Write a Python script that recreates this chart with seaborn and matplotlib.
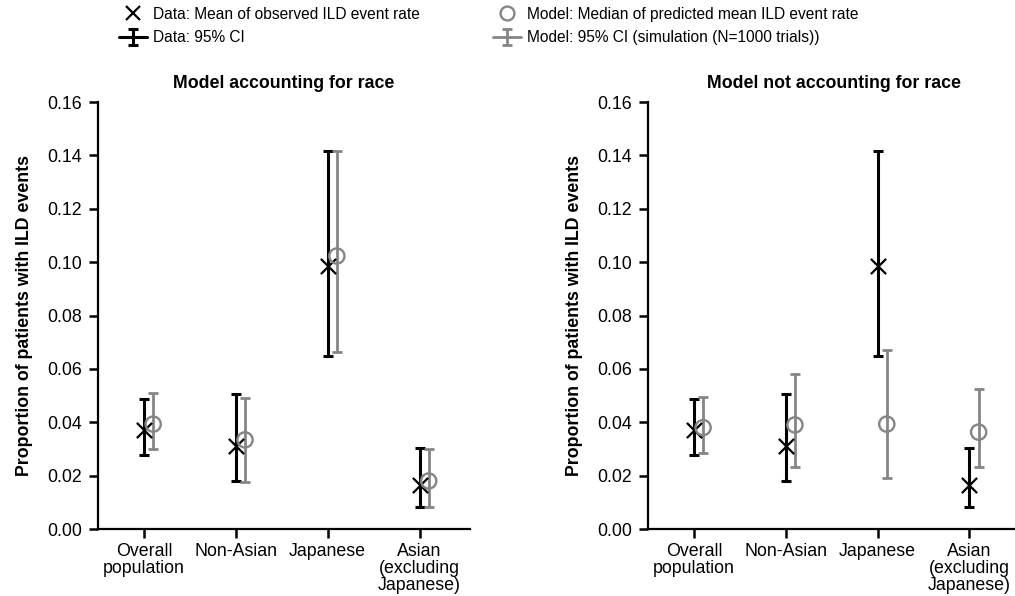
import numpy as np
import pandas as pd
import seaborn as sns
import matplotlib.pyplot as plt
from matplotlib.lines import Line2D

# categories
groups = ['Overall\npopulation', 'Non-Asian', 'Japanese', 'Asian\n(excluding\nJapanese)']

# observed data (same in both panels)
obs_mean = [0.037, 0.031, 0.0985, 0.0165]
obs_lo = [0.0277, 0.018, 0.0648, 0.0082]
obs_hi = [0.0487, 0.0506, 0.1416, 0.0303]

# model accounting for race
m1_med = [0.0393, 0.0334, 0.1023, 0.018]
m1_lo = [0.030, 0.0176, 0.0664, 0.0082]
m1_hi = [0.051, 0.049, 0.1416, 0.030]

# model not accounting for race
m2_med = [0.038, 0.039, 0.0393, 0.0363]
m2_lo = [0.0285, 0.0232, 0.0191, 0.0232]
m2_hi = [0.0495, 0.058, 0.067, 0.0524]

titles = ['Model accounting for race', 'Model not accounting for race']
ylab = 'Proportion of patients with ILD events'

sns.set_style('ticks')
plt.rcParams['font.family'] = ['Liberation Sans', 'DejaVu Sans']
plt.rcParams['font.size'] = 12.8
for k in ['text.color', 'axes.labelcolor', 'xtick.color', 'ytick.color', 'axes.edgecolor']:
    plt.rcParams[k] = 'black'

GREY = '#858585'
off = 0.1

fig = plt.figure(figsize=(10.15, 5.96), dpi=100)
ax1 = fig.add_axes([0.0966, 0.1124, 0.3665, 0.7164])
ax2 = fig.add_axes([0.6384, 0.1124, 0.3665, 0.7164])

models = [(m1_med, m1_lo, m1_hi), (m2_med, m2_lo, m2_hi)]

for ax, title, (med, lo, hi) in zip([ax1, ax2], titles, models):
    x = np.arange(len(groups))
    d = pd.DataFrame({'x': x, 'obs': obs_mean, 'mod': med})

    ax.errorbar(x, obs_mean,
                yerr=[np.array(obs_mean) - np.array(obs_lo), np.array(obs_hi) - np.array(obs_mean)],
                fmt='none', ecolor='black', elinewidth=2.2, capsize=3.3, capthick=2.2, zorder=2)
    ax.errorbar(x + off, med,
                yerr=[np.array(med) - np.array(lo), np.array(hi) - np.array(med)],
                fmt='none', ecolor=GREY, elinewidth=2.0, capsize=3.3, capthick=2.0, zorder=2)

    sns.scatterplot(data=d, x='x', y='obs', marker='x', s=120, color='black',
                    linewidth=1.6, ax=ax, zorder=3, legend=False)
    d['xm'] = d['x'] + off
    sns.scatterplot(data=d, x='xm', y='mod', marker='o', s=120, facecolor='none',
                    edgecolor=GREY, linewidth=1.7, ax=ax, zorder=3, legend=False)

    ax.set_xlim(-0.5, 3.55)
    ax.set_ylim(0, 0.16)
    ax.set_yticks(np.arange(0, 0.161, 0.02))
    ax.set_yticklabels([f'{v:.2f}' for v in np.arange(0, 0.161, 0.02)])
    ax.set_xticks(x)
    ax.set_xticklabels(groups, linespacing=1.02)
    ax.set_xlabel('')
    ax.set_ylabel(ylab, fontweight='bold', fontsize=12.8, labelpad=10)
    ax.set_title(title, fontweight='bold', fontsize=12.8, pad=10)
    ax.tick_params(width=1.8, length=6.5, pad=5, colors='black', labelsize=12.8)
    ax.tick_params(axis='x', pad=3.5)
    for s in ['left', 'bottom']:
        ax.spines[s].set_linewidth(1.6)
        ax.spines[s].set_color('black')
    sns.despine(ax=ax)

# legend proxies
h1 = Line2D([], [], marker='x', color='black', linestyle='none', markersize=10, mew=1.6)
h3 = Line2D([], [], marker='o', color=GREY, markerfacecolor='none', linestyle='none',
            markersize=10, mew=1.7)
h2 = ax1.errorbar([np.nan], [np.nan], yerr=[[0.0], [0.0]], color='black', lw=2.2,
                  capsize=3.3, capthick=2.2)
h4 = ax1.errorbar([np.nan], [np.nan], yerr=[[0.0], [0.0]], color=GREY, lw=2.0,
                  capsize=3.3, capthick=2.0)

fig.legend([h1, h2, h3, h4],
           ['Data: Mean of observed ILD event rate', 'Data: 95% CI',
            'Model: Median of predicted mean ILD event rate',
            'Model: 95% CI (simulation (N=1000 trials))'],
           ncol=2, frameon=False, loc='upper left', bbox_to_anchor=(0.103, 1.012),
           fontsize=11.2, handlelength=1.8, handletextpad=0.4, columnspacing=4.7,
           labelspacing=0.55)

fig.savefig('out.png', dpi=100)
